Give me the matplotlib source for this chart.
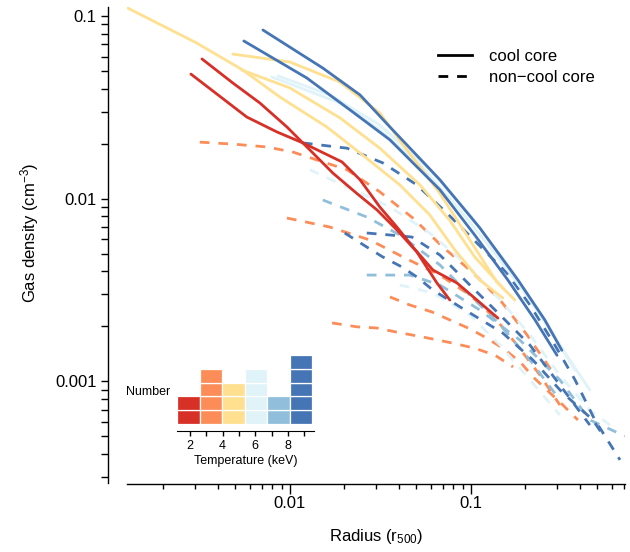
import matplotlib
matplotlib.use('Agg')
import matplotlib.pyplot as plt
from matplotlib import ticker
from matplotlib.lines import Line2D

plt.rcParams['font.family'] = ['Liberation Sans', 'DejaVu Sans']
plt.rcParams['mathtext.fontset'] = 'custom'
plt.rcParams['mathtext.rm'] = 'Liberation Sans'
plt.rcParams['mathtext.it'] = 'Liberation Sans:italic'

# Gas density profiles, radius in r500, density in cm^-3
# red bin (~2 keV), cool core
r_red_a = [0.00284, 0.00578, 0.00848, 0.0118, 0.0194, 0.0244, 0.0314, 0.0390, 0.0478, 0.0617, 0.0837, 0.108, 0.141]
n_red_a = [0.0481, 0.0280, 0.0232, 0.0202, 0.0159, 0.0127, 0.00901, 0.00700, 0.00544, 0.00407, 0.00346, 0.00279, 0.00222]
r_red_b = [0.00327, 0.00484, 0.00683, 0.00963, 0.0134, 0.0173, 0.0234, 0.0303, 0.0390, 0.0503, 0.0649, 0.0765]
n_red_b = [0.0582, 0.0430, 0.0334, 0.0247, 0.0178, 0.0138, 0.0107, 0.00868, 0.00675, 0.00511, 0.00346, 0.00279]

# orange bin, non-cool core
r_org_a = [0.00318, 0.00484, 0.00746, 0.0104, 0.0141, 0.0207, 0.0314, 0.0478, 0.0700, 0.103, 0.145, 0.204, 0.291]
n_org_a = [0.0204, 0.0199, 0.0192, 0.0180, 0.0163, 0.0144, 0.0109, 0.00784, 0.00544, 0.00392, 0.00279, 0.00180, 0.00108]
r_org_b = [0.00963, 0.0166, 0.0277, 0.0432, 0.0674, 0.0987, 0.136, 0.180, 0.241, 0.310]
n_org_b = [0.00784, 0.00700, 0.00594, 0.00474, 0.00382, 0.00297, 0.00222, 0.00158, 0.00108, 0.000743]
r_org_c = [0.0357, 0.0460, 0.0609, 0.0765, 0.0987, 0.122, 0.150, 0.187, 0.220, 0.263, 0.322, 0.390]
n_org_c = [0.00290, 0.00262, 0.00240, 0.00217, 0.00194, 0.00173, 0.00152, 0.00128, 0.00106, 0.000897, 0.000743, 0.000615]
r_org_d = [0.0171, 0.0234, 0.0303, 0.0390, 0.0543, 0.0795, 0.105, 0.136, 0.171]
n_org_d = [0.00209, 0.00199, 0.00196, 0.00186, 0.00175, 0.00162, 0.00152, 0.00139, 0.00120]

# yellow bin, cool core
r_yel_a = [0.00126, 0.00306, 0.00550, 0.00881, 0.0160, 0.0244, 0.0405, 0.0593, 0.0816, 0.112, 0.150]
n_yel_a = [0.111, 0.0711, 0.0506, 0.0360, 0.0247, 0.0178, 0.0119, 0.00815, 0.00524, 0.00359, 0.00286]
r_yel_b = [0.00484, 0.0100, 0.0189, 0.0314, 0.0443, 0.0674, 0.0987, 0.139, 0.175]
n_yel_b = [0.0619, 0.0560, 0.0435, 0.0295, 0.0185, 0.0107, 0.00594, 0.00350, 0.00279]
r_yel_c = [0.00543, 0.0100, 0.0189, 0.0314, 0.0523, 0.0765, 0.105, 0.154]
n_yel_c = [0.0506, 0.0404, 0.0277, 0.0189, 0.0119, 0.00760, 0.00480, 0.00316]

# light blue bin: two cool core, two non-cool core
r_lbl_a = [0.00795, 0.0189, 0.0314, 0.0523, 0.0869, 0.145, 0.212, 0.310, 0.454]
n_lbl_a = [0.0464, 0.0334, 0.0238, 0.0153, 0.00868, 0.00462, 0.00279, 0.00158, 0.000897]
r_lbl_b = [0.00859, 0.0166, 0.0314, 0.0593, 0.0987, 0.164, 0.256, 0.376]
n_lbl_b = [0.0470, 0.0370, 0.0253, 0.0144, 0.00815, 0.00418, 0.00217, 0.00115]
r_lbl_c = [0.0129, 0.0207, 0.0357, 0.0593, 0.0950, 0.145, 0.212, 0.310, 0.454, 0.586]
n_lbl_c = [0.0144, 0.0116, 0.00901, 0.00649, 0.00434, 0.00279, 0.00180, 0.00108, 0.000697, 0.000577]
r_lbl_d = [0.0405, 0.0617, 0.0987, 0.145, 0.212, 0.310]
n_lbl_d = [0.00337, 0.00305, 0.00231, 0.00158, 0.00102, 0.000655]

# mid blue bin, non-cool core
r_mbl_a = [0.0152, 0.0266, 0.0405, 0.0674, 0.0987, 0.145, 0.212, 0.310]
n_mbl_a = [0.00984, 0.00794, 0.00633, 0.00434, 0.00297, 0.00204, 0.00131, 0.000791]
r_mbl_b = [0.0266, 0.0460, 0.0674, 0.112, 0.187, 0.310, 0.454, 0.710]
n_mbl_b = [0.00382, 0.00382, 0.00337, 0.00246, 0.00168, 0.00102, 0.000615, 0.000502]

# dark blue bin: two cool core, three non-cool core
r_dbl_a = [0.0071, 0.0152, 0.0244, 0.0357, 0.0674, 0.112, 0.182, 0.256, 0.318]
n_dbl_a = [0.0838, 0.0519, 0.0370, 0.0247, 0.0127, 0.00692, 0.00359, 0.00217, 0.00148]
r_dbl_b = [0.00557, 0.0124, 0.0223, 0.0357, 0.0674, 0.105, 0.160, 0.226, 0.299]
n_dbl_b = [0.0730, 0.0458, 0.0298, 0.0210, 0.0112, 0.00633, 0.00359, 0.00217, 0.00139]
r_dbl_c = [0.0118, 0.0207, 0.0326, 0.0503, 0.0736, 0.108, 0.158, 0.212, 0.291, 0.376, 0.484, 0.666]
n_dbl_c = [0.0202, 0.0189, 0.0157, 0.0119, 0.00835, 0.00572, 0.00392, 0.00262, 0.00158, 0.00102, 0.000615, 0.000372]
r_dbl_d = [0.0201, 0.0266, 0.0326, 0.0416, 0.0503, 0.0617, 0.0987, 0.150, 0.220, 0.318, 0.472, 0.550]
n_dbl_d = [0.00649, 0.00544, 0.00480, 0.00423, 0.00373, 0.00316, 0.00237, 0.00184, 0.00131, 0.000875, 0.000615, 0.000490]
r_dbl_e = [0.0266, 0.0357, 0.0472, 0.0674, 0.0987, 0.145, 0.212, 0.310, 0.454]
n_dbl_e = [0.00649, 0.00633, 0.00617, 0.00492, 0.00337, 0.00231, 0.00158, 0.000956, 0.000577]

# temperature histogram (inset)
t_edges = [1.2, 2.58, 3.97, 5.35, 6.73, 8.12, 9.5]
t_counts = [2, 4, 3, 4, 2, 5]

palette = ['#D73027', '#FC8D59', '#FEE090', '#E0F3F8', '#91BFDB', '#4575B4']
dash = (0, (3.5, 3.2))

# (radius, density, temperature bin, cool core?) -- dashed first so solid ones sit on top
profiles = [
    (r_org_a, n_org_a, 1, False), (r_org_b, n_org_b, 1, False),
    (r_org_c, n_org_c, 1, False), (r_org_d, n_org_d, 1, False),
    (r_lbl_c, n_lbl_c, 3, False), (r_lbl_d, n_lbl_d, 3, False),
    (r_mbl_a, n_mbl_a, 4, False), (r_mbl_b, n_mbl_b, 4, False),
    (r_dbl_c, n_dbl_c, 5, False), (r_dbl_d, n_dbl_d, 5, False), (r_dbl_e, n_dbl_e, 5, False),
    (r_lbl_a, n_lbl_a, 3, True), (r_lbl_b, n_lbl_b, 3, True),
    (r_yel_a, n_yel_a, 2, True), (r_yel_b, n_yel_b, 2, True), (r_yel_c, n_yel_c, 2, True),
    (r_dbl_a, n_dbl_a, 5, True), (r_dbl_b, n_dbl_b, 5, True),
    (r_red_a, n_red_a, 0, True), (r_red_b, n_red_b, 0, True),
]

fig = plt.figure(figsize=(6.3, 5.52), dpi=100)
ax = fig.add_axes([127/630, 1 - 483/552, 498/630, 476/552])

for r, n, tb, cc in profiles:
    ax.plot(r, n, color=palette[tb], lw=2.0, ls='-' if cc else dash,
            solid_capstyle='round', solid_joinstyle='round')

ax.set_xscale('log')
ax.set_yscale('log')
ax.set_xlim(0.00126, 0.71)
ax.set_ylim(0.000278, 0.112)

for s in ['top', 'right']:
    ax.spines[s].set_visible(False)
ax.spines['left'].set_position(('outward', 13.7))
ax.spines['bottom'].set_position(('outward', 0.7))
for s in ['left', 'bottom']:
    ax.spines[s].set_linewidth(1.0)

fmt = ticker.FuncFormatter(lambda v, p: '%g' % v)
ax.xaxis.set_major_formatter(fmt)
ax.yaxis.set_major_formatter(fmt)
ax.xaxis.set_minor_formatter(ticker.NullFormatter())
ax.yaxis.set_minor_formatter(ticker.NullFormatter())
ax.tick_params(axis='x', which='major', length=7, width=1, labelsize=12, pad=2)
ax.tick_params(axis='x', which='minor', length=3.5, width=1)
ax.tick_params(axis='y', which='major', length=5, width=1, labelsize=12, pad=3)
ax.tick_params(axis='y', which='minor', length=5, width=1)

fig.text(376/630, 1 - 537/552, r'Radius (r$_{\mathrm{500}}$)', ha='center', va='center', fontsize=12)
fig.text(30/630, 1 - 233/552, r'Gas density (cm$^{\mathrm{-3}}$)', ha='center', va='center',
         rotation=90, fontsize=12)

handles = [Line2D([], [], color='black', lw=2.0),
           Line2D([], [], color='black', lw=2.0, ls=dash)]
ax.legend(handles, ['cool core', 'non\u2212cool core'], loc='upper left',
          bbox_to_anchor=(438/630, 1 - 49/552), bbox_transform=fig.transFigure,
          frameon=False, fontsize=12, handlelength=2.05, handletextpad=1.0,
          borderpad=0, borderaxespad=0, labelspacing=0.35)

# inset histogram of temperatures, one box per cluster
axi = fig.add_axes([177/630, 1 - 424/552, 137/630, 69/552])
axi.patch.set_alpha(0)
for i in range(len(t_counts)):
    left = t_edges[i]
    w = t_edges[i + 1] - t_edges[i]
    for k in range(t_counts[i]):
        axi.bar(left, 1, width=w, bottom=k, align='edge', color=palette[i],
                edgecolor='white', linewidth=0.9)
axi.set_xlim(1.2, 9.6)
axi.set_ylim(0, 5)
for s in ['top', 'right', 'left']:
    axi.spines[s].set_visible(False)
axi.spines['bottom'].set_position(('outward', 5))
axi.set_yticks([])
axi.set_xticks([2, 4, 6, 8])
axi.set_xticks([3, 5, 7, 9], minor=True)
axi.tick_params(axis='x', which='both', length=3.5, width=1, labelsize=9, pad=3)
axi.set_xlabel('Temperature (keV)', fontsize=9, labelpad=2.5)
axi.text(-0.05, 0.46, 'Number', transform=axi.transAxes, ha='right', va='center', fontsize=9)

fig.savefig('out.png', dpi=100)
